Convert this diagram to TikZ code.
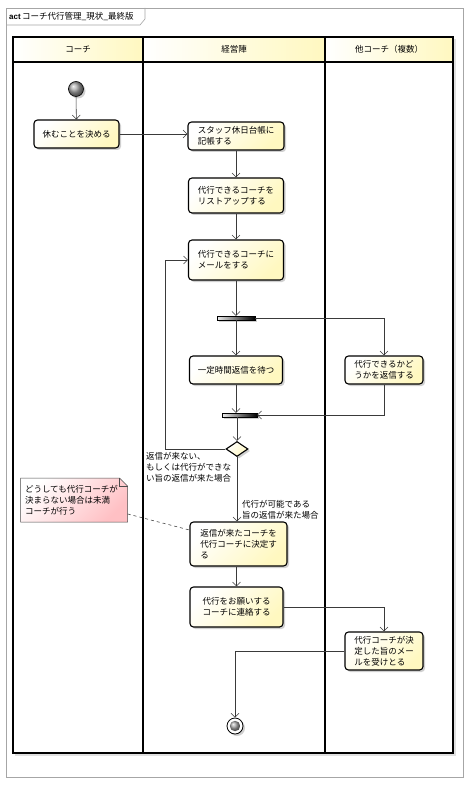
\documentclass[tikz,border=0pt]{standalone}
\usepackage{fontspec}
\newfontfamily\jp{Noto Sans CJK JP}
\newfontfamily\lat{Liberation Sans}
\usetikzlibrary{arrows.meta,shadows,shapes.geometric}
\definecolor{nodeyel}{HTML}{FFF8C0}
\definecolor{notepink}{HTML}{FFC0C4}
\definecolor{linegray}{HTML}{3A3A3A}
\begin{document}
\begin{tikzpicture}[x=1pt,y=-1pt,
  every node/.style={font=\jp\fontsize{8.5}{11}\selectfont},
  shad/.style={drop shadow={shadow xshift=2pt,shadow yshift=-2pt,fill=black!30,opacity=0.6}},
  act/.style={draw=black, line width=1.1pt, rounded corners=3.5pt, top color=white, bottom color=nodeyel, shading angle=45, shad, align=left, inner sep=0pt},
  flow/.style={draw=linegray, line width=0.55pt, -{Straight Barb[length=4pt,width=8pt]}},
  barnode/.style={draw=black, line width=0.4pt, left color=gray!15, right color=black, minimum height=4pt, inner sep=0pt, shad},
  lbl/.style={align=left, inner sep=0pt, anchor=north west},
  lane/.style={line width=1.3pt, draw=black}
]
\useasboundingbox (0,0) rectangle (468,791);
\fill[white] (0,0) rectangle (468,791);

% outer frame and title tab
\draw[gray!70, line width=0.6pt] (6,8) rectangle (463,777);
\draw[gray!70, line width=0.6pt] (6,25) -- (140,25) -- (145,19) -- (145,8);
\node[anchor=west, inner sep=0pt] (title) at (9,16.5) {{\lat\bfseries\fontsize{8}{10}\selectfont act}\,コーチ代行管理\_現状\_最終版};

% swimlane headers
\shade[left color=white, right color=nodeyel] (13,37) rectangle (143,62);
\shade[left color=white, right color=nodeyel] (143,37) rectangle (325,62);
\shade[left color=white, right color=nodeyel] (325,37) rectangle (453,62);
\fill[black!12] (453,39) rectangle (456,756);
\fill[black!12] (15,753) rectangle (456,756);
\draw[lane] (13,37) rectangle (453,753);
\draw[lane] (13,62) -- (453,62);
\draw[lane] (143,37) -- (143,753);
\draw[lane] (325,37) -- (325,753);
\node (h1) at (78,49.5) {コーチ};
\node (h2) at (234,49.5) {経営陣};
\node (h3) at (389,49.5) {他コーチ（複数）};

% nodes
\node[circle, draw=black, line width=0.6pt, minimum size=15pt, inner sep=0pt, shading=ball, ball color=gray!70, shad] (start) at (76,89) {};
\node[act, minimum width=85pt, minimum height=28pt] (n1) at (76.5,134) {休むことを決める};
\node[act, minimum width=96pt, minimum height=28pt] (n2) at (236,136) {スタッフ休日台帳に\\記帳する};
\node[act, minimum width=95pt, minimum height=35pt] (n3) at (236,195.5) {代行できるコーチを\\リストアップする};
\node[act, minimum width=95pt, minimum height=40pt] (n4) at (236,260) {代行できるコーチに\\メールをする};
\node[barnode, minimum width=38pt] (fork1) at (236,318) {};
\node[act, minimum width=93pt, minimum height=28pt] (n5) at (236,370) {一定時間返信を待つ};
\node[act, minimum width=78pt, minimum height=28pt] (n6) at (384,370) {代行できるかど\\うかを返信する};
\node[barnode, minimum width=35pt] (join) at (239.5,415) {};
\node[diamond, draw=black, line width=1.1pt, top color=white, bottom color=nodeyel, shading angle=45, minimum width=22pt, minimum height=15pt, aspect=1.5, inner sep=0pt, shad] (dia) at (237,449) {};
\node[act, minimum width=97pt, minimum height=44pt] (n7) at (238.5,544) {返信が来たコーチを\\代行コーチに決定す\\る};
\node[act, minimum width=93pt, minimum height=40pt] (n8) at (236.5,607) {代行をお願いする\\コーチに連絡する};
\node[act, minimum width=78pt, minimum height=38pt] (n9) at (384,651) {代行コーチが決\\定した旨のメー\\ルを受けとる};
\node[circle, draw=black, line width=0.8pt, fill=white, minimum size=16pt, inner sep=0pt, shad] (end) at (235,726) {};
\shade[ball color=gray!70] (end.center) circle (5.2pt);

% guard labels
\node[lbl] (g1) at (146,452) {返信が来ない、\\もしくは代行ができな\\い旨の返信が来た場合};
\node[lbl] (g2) at (242,500) {代行が可能である\\旨の返信が来た場合};

% note (folded-corner outline drawn directly, text node on top)
\shadedraw[draw=black!70, line width=0.5pt, top color=white, bottom color=notepink, shading angle=45]
  (20.5,478) -- (119.5,478) -- (127.5,486) -- (127.5,522) -- (20.5,522) -- cycle;
\draw[black!70, line width=0.5pt] (119.5,478) -- (119.5,486) -- (127.5,486);
\node[align=left, minimum width=107pt, minimum height=44pt, inner sep=0pt, text width=98pt] (note) at (74,500) {どうしても代行コーチが\\決まらない場合は未満\\コーチが行う};
\draw[dashed, linegray, line width=0.55pt] ([yshift=-14pt]note.east) -- ([yshift=14pt]n7.west);

% connectors
\coordinate (loopc) at (165,449);
\draw[flow] (start) -- (n1);
\draw[flow] (n1.east) -- (n1.east -| n2.west);
\draw[flow] (n2) -- (n3);
\draw[flow] (n3) -- (n4);
\draw[flow] (n4) -- (fork1);
\draw[flow] (fork1) -- (n5);
\draw[flow] (fork1.east) -| (n6.north);
\draw[flow] (n5.south) -- (n5.south |- join.north);
\draw[flow] (n6.south) |- (join.east);
\draw[flow] (dia.north |- join.south) -- (dia.north);
\draw[flow] (dia.west) -- (loopc) |- (n4.west);
\draw[flow] (dia.south) -- (dia.south |- n7.north);
\draw[flow] (n8.north |- n7.south) -- (n8.north);
\draw[flow] (n8.east) -| (n9.north);
\draw[flow] (n9.west) -| (end.north);
\end{tikzpicture}
\end{document}
